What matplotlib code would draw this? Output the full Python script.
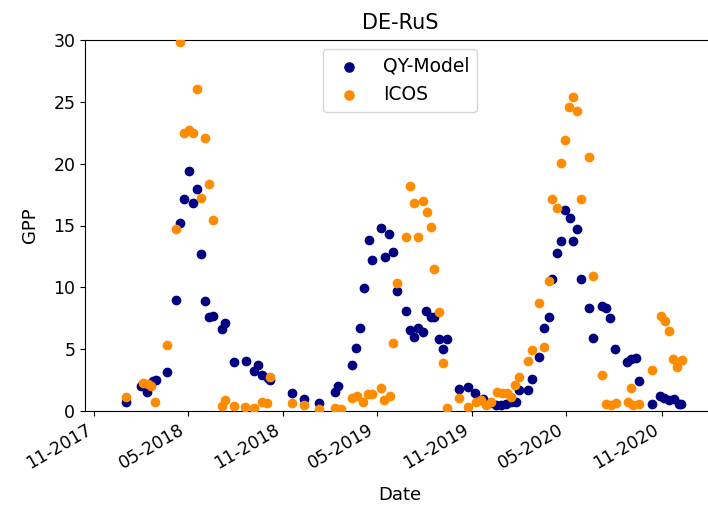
import matplotlib
matplotlib.use("Agg")
import matplotlib.pyplot as plt
import matplotlib.dates as mdates
import numpy as np
import pandas as pd

qy_dates = ["2018-01-01", "2018-01-31", "2018-02-10", "2018-02-23", "2018-02-28", "2018-03-22",
            "2018-04-07", "2018-04-15", "2018-04-24", "2018-05-02", "2018-05-10", "2018-05-18",
            "2018-05-26", "2018-06-02", "2018-06-10", "2018-06-19", "2018-07-05", "2018-07-11",
            "2018-07-28", "2018-08-21", "2018-09-05", "2018-09-14", "2018-09-21", "2018-10-02",
            "2018-10-07", "2018-11-17", "2018-12-11", "2019-01-09", "2019-02-09", "2019-02-15",
            "2019-03-14", "2019-03-22", "2019-03-30", "2019-04-06", "2019-04-15", "2019-04-22",
            "2019-05-08", "2019-05-17", "2019-05-24", "2019-06-01", "2019-06-08", "2019-06-26",
            "2019-07-03", "2019-07-12", "2019-07-20", "2019-07-29", "2019-08-04", "2019-08-13",
            "2019-08-20", "2019-08-28", "2019-09-05", "2019-09-13", "2019-10-06", "2019-10-23",
            "2019-11-07", "2019-11-21", "2019-12-04", "2019-12-17", "2019-12-27", "2020-01-05",
            "2020-01-15", "2020-01-24", "2020-01-31", "2020-02-16", "2020-02-24", "2020-03-09",
            "2020-03-18", "2020-03-28", "2020-04-04", "2020-04-12", "2020-04-20", "2020-04-29",
            "2020-05-07", "2020-05-13", "2020-05-22", "2020-05-29", "2020-06-14", "2020-06-22",
            "2020-07-08", "2020-07-17", "2020-07-24", "2020-08-03", "2020-08-26", "2020-09-03",
            "2020-09-13", "2020-09-19", "2020-10-13", "2020-10-28", "2020-11-06", "2020-11-16",
            "2020-11-25", "2020-12-05", "2020-12-09"]
qy_values = [0.75, 2.02, 1.56, 2.45, 2.50, 3.13,
             8.98, 15.23, 17.14, 19.43, 16.79, 17.93,
             12.72, 8.92, 7.58, 7.68, 6.61, 7.09,
             3.94, 4.04, 3.26, 3.70, 2.94, 2.69,
             2.51, 1.48, 0.95, 0.65, 1.54, 2.02,
             3.70, 5.12, 6.74, 9.97, 13.80, 12.19,
             14.80, 12.48, 14.31, 12.88, 9.70, 8.11,
             6.55, 6.01, 6.69, 6.39, 8.11, 7.60,
             7.62, 5.80, 5.01, 5.80, 1.78, 1.92,
             1.43, 0.95, 0.62, 0.49, 0.49, 0.57,
             0.75, 0.75, 1.70, 1.70, 2.59, 4.37,
             6.74, 7.62, 10.65, 12.75, 13.75, 16.25,
             15.58, 13.75, 14.72, 10.65, 8.30, 5.88,
             8.49, 8.30, 7.48, 5.01, 3.99, 4.18,
             4.31, 2.45, 0.54, 1.21, 1.03, 0.89,
             0.95, 0.57, 0.54]

icos_dates = ["2018-01-02", "2018-02-03", "2018-02-13", "2018-02-19", "2018-02-26", "2018-03-22",
              "2018-04-07", "2018-04-15", "2018-04-23", "2018-05-03", "2018-05-10", "2018-05-18",
              "2018-05-26", "2018-06-03", "2018-06-10", "2018-06-19", "2018-07-05", "2018-07-11",
              "2018-07-28", "2018-08-20", "2018-09-05", "2018-09-21", "2018-09-30", "2018-10-07",
              "2018-11-17", "2018-12-11", "2019-01-09", "2019-02-09", "2019-02-20", "2019-03-13",
              "2019-03-23", "2019-04-04", "2019-04-14", "2019-04-22", "2019-05-08", "2019-05-15",
              "2019-05-26", "2019-06-01", "2019-06-09", "2019-06-26", "2019-07-04", "2019-07-12",
              "2019-07-20", "2019-07-28", "2019-08-05", "2019-08-13", "2019-08-20", "2019-08-28",
              "2019-09-05", "2019-09-13", "2019-10-06", "2019-10-23", "2019-11-08", "2019-11-18",
              "2019-11-27", "2019-12-07", "2019-12-18", "2019-12-28", "2020-01-07", "2020-01-15",
              "2020-01-23", "2020-01-31", "2020-02-16", "2020-02-24", "2020-03-09", "2020-03-18",
              "2020-03-28", "2020-04-04", "2020-04-12", "2020-04-20", "2020-04-28", "2020-05-06",
              "2020-05-13", "2020-05-22", "2020-05-30", "2020-06-14", "2020-06-22", "2020-07-09",
              "2020-07-17", "2020-07-26", "2020-08-04", "2020-08-27", "2020-09-03", "2020-09-06",
              "2020-09-18", "2020-10-13", "2020-10-30", "2020-11-08", "2020-11-15", "2020-11-22",
              "2020-12-01", "2020-12-10"]
icos_values = [1.16, 2.24, 2.16, 2.02, 0.75, 5.31,
               14.69, 29.81, 22.50, 22.72, 22.45, 26.04,
               17.20, 22.05, 18.33, 15.44, 0.43, 0.85,
               0.43, 0.35, 0.28, 0.73, 0.65, 2.77,
               0.65, 0.51, 0.16, 0.24, 0.14, 1.03,
               1.21, 0.75, 1.37, 1.35, 1.84, 0.89,
               1.24, 5.47, 10.33, 14.09, 18.19, 16.79,
               14.07, 17.00, 16.07, 14.90, 11.46, 8.01,
               3.86, 0.27, 1.05, 0.30, 0.75, 0.89,
               0.49, 0.75, 1.56, 1.43, 1.43, 1.16,
               2.10, 2.77, 4.04, 4.97, 8.76, 5.20,
               10.51, 17.12, 16.44, 20.03, 21.91, 24.61,
               25.37, 24.28, 17.12, 20.51, 10.94, 2.91,
               0.57, 0.49, 0.62, 0.75, 1.88, 0.49,
               0.57, 3.32, 7.71, 7.30, 6.47, 4.18,
               3.58, 4.12]

title = "DE-RuS"
x_label = "Date"
y_label = "GPP"

fig = plt.figure(figsize=(7.08, 5.08), dpi=100)
ax = fig.add_axes([85 / 708, 97 / 508, 630 / 708, 371 / 508])

ax.scatter(pd.to_datetime(qy_dates), qy_values, color="navy", label="QY-Model", zorder=2)
ax.scatter(pd.to_datetime(icos_dates), icos_values, color="darkorange", label="ICOS", zorder=3)

ax.set_xlim(pd.Timestamp("2017-10-14"), pd.Timestamp("2021-02-12"))
ax.set_ylim(0, 30)
ax.set_yticks([0, 5, 10, 15, 20, 25, 30])
ax.xaxis.set_major_locator(mdates.MonthLocator(bymonth=(5, 11)))
ax.xaxis.set_major_formatter(mdates.DateFormatter("%m-%Y"))
for lbl in ax.get_xticklabels():
    lbl.set_rotation(30)
    lbl.set_ha("right")
ax.tick_params(labelsize=12.5)

ax.set_title(title, fontsize=15, pad=8)
ax.set_xlabel(x_label, fontsize=13, labelpad=10)
ax.set_ylabel(y_label, fontsize=13, labelpad=10)
ax.legend(loc="upper center", fontsize=13.5, markerscale=1.1)

fig.savefig("out.png", dpi=100)
